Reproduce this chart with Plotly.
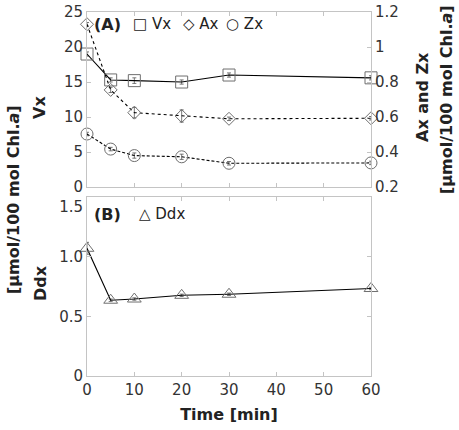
import plotly.graph_objects as go

time = [0, 5, 10, 20, 30, 60]
vx = [19.0, 15.3, 15.2, 15.0, 16.0, 15.6]
vx_err = [0.3, 0.3, 0.4, 0.3, 0.3, 0.3]
ax = [1.13, 0.755, 0.625, 0.606, 0.59, 0.593]
ax_err = [0.01, 0.015, 0.03, 0.035, 0.01, 0.01]
zx = [0.503, 0.417, 0.38, 0.373, 0.336, 0.338]
zx_err = [0.01, 0.01, 0.015, 0.015, 0.01, 0.01]
ddx = [1.07, 0.635, 0.645, 0.676, 0.685, 0.733]
ddx_err = [0.05, 0.01, 0.01, 0.01, 0.01, 0.01]

left_ticks = [0, 5, 10, 15, 20, 25]
right_ticks = [0.2, 0.4, 0.6, 0.8, 1.0, 1.2]
right_labels = ["0.2", "0.4", "0.6", "0.8", "1", "1.2"]
bottom_ticks = [0, 0.5, 1.0, 1.5]
bottom_labels = ["0", "0.5", "1.0", "<br>1.5"]
x_ticks = [0, 10, 20, 30, 40, 50, 60]

FONT = "DejaVu Sans"
FRAME = "#c4c4c4"
MK = "#6e6e6e"
ERR = "#555555"

fig = go.Figure()

def add(x, y, err, sym, size, dash, xa, ya, name):
    fig.add_trace(go.Scatter(
        x=x, y=y, mode="lines+markers", name=name, xaxis=xa, yaxis=ya,
        line=dict(color="black", width=1.1, dash=dash),
        marker=dict(symbol=sym, size=size, color="rgba(255,255,255,0)",
                    line=dict(color=MK, width=1)),
        error_y=dict(type="data", array=err, color=ERR, thickness=0.8, width=2),
        cliponaxis=False, showlegend=False))

add(time, vx, vx_err, "square", 12, "solid", "x", "y", "Vx")
add(time, ax, ax_err, "diamond", 10, "dot", "x", "y2", "Ax")
add(time, zx, zx_err, "circle", 12, "3px,2px", "x", "y2", "Zx")
add(time, ddx, ddx_err, "triangle-up", 12, "solid", "x2", "y3", "Ddx")

tickfont = dict(family=FONT, size=15, color="#333333")
common = dict(showgrid=False, zeroline=False, linecolor=FRAME, linewidth=1,
              ticks="inside", ticklen=4, tickcolor=FRAME, tickfont=tickfont,
              ticklabeloverflow="allow")

W, H = 459, 430
L, T = 87, 12
R = W - 371
B = H - 376

fig.update_layout(
    width=W, height=H,
    margin=dict(l=L, r=R, t=T, b=B, autoexpand=False),
    paper_bgcolor="white", plot_bgcolor="white",
    font=dict(family=FONT, color="#222222"),
    xaxis=dict(domain=[0, 1], range=[0, 60], tickvals=x_ticks, showticklabels=False,
               anchor="y", mirror="ticks", **common),
    yaxis=dict(domain=[0.519, 1], range=[0, 25], tickvals=left_ticks,
               anchor="x", mirror=True, **common),
    yaxis2=dict(range=[0.2, 1.2], tickvals=right_ticks, ticktext=right_labels,
                overlaying="y", side="right", anchor="x", **common),
    xaxis2=dict(domain=[0, 1], range=[0, 60], tickvals=x_ticks, anchor="y3",
                mirror="ticks",
                title=dict(text="<b>Time [min]</b>", font=dict(family=FONT, size=16, color="#222222"),
                           standoff=10),
                **common),
    yaxis3=dict(domain=[0, 0.4918], range=[0, 1.5], tickvals=bottom_ticks,
                ticktext=bottom_labels, anchor="x2", mirror="ticks", **common),
)

def px_to_paper(xp, yp):
    return (xp - L) / (W - L - R), (H - B - yp) / (H - T - B)

tfont = dict(family=FONT, size=16, color="#222222")
ann = [
    ("<b>[μmol/100 mol Chl.<i>a</i>]</b>", 14, 200),
    ("<b>Vx</b>", 40, 108),
    ("<b>Ddx</b>", 40, 283),
    ("<b>Ax and Zx</b>", 423, 97),
    ("<b>[μmol/100 mol Chl.<i>a</i>]</b>", 446, 100),
]
for t, xp, yp in ann:
    px, py = px_to_paper(xp, yp)
    fig.add_annotation(xref="paper", yref="paper", x=px, y=py,
                       text=t, textangle=-90, showarrow=False,
                       font=tfont, xanchor="center", yanchor="middle")

legend_items = [
    ("<b>(A)</b>", 107, 24, 16),
    ("□ Vx", 152, 24, 15),
    ("◇ Ax", 201, 24, 15),
    ("○ Zx", 244, 24, 15),
    ("<b>(B)</b>", 107, 214, 16),
    ("△ Ddx", 162, 214, 15),
]
for t, xp, yp, fs in legend_items:
    px, py = px_to_paper(xp, yp)
    fig.add_annotation(xref="paper", yref="paper", x=px, y=py, text=t,
                       showarrow=False, xanchor="center", yanchor="middle",
                       font=dict(family=FONT, size=fs, color="#222222"))

# remove the default 8px page margin so the figure fills the window exactly
fig.write_html("out.html",
               config={"displayModeBar": False},
               post_script="document.body.style.margin='0px';"
                           "document.body.style.overflow='hidden';")
